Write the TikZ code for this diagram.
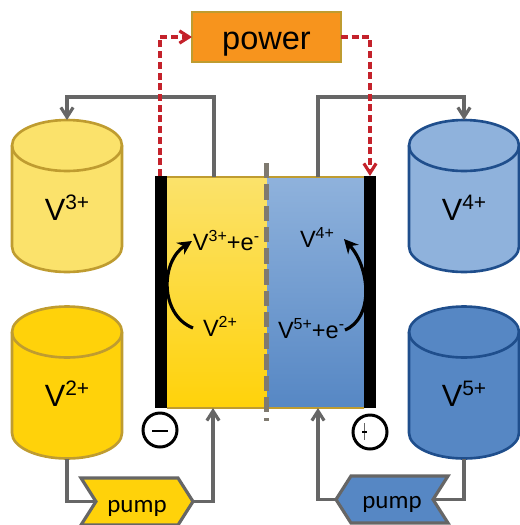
\documentclass[tikz,border=0pt]{standalone}
\usepackage{xcolor}
\usepackage{fontspec}
\setmainfont{Liberation Sans}
\newfontfamily\pumpfont{Carlito}
\usetikzlibrary{positioning}
\usetikzlibrary{arrows.meta}
\usetikzlibrary{shapes.symbols}

\definecolor{goldEdge}{HTML}{BF9C30}
\definecolor{paleYellow}{HTML}{FBE26B}
\definecolor{deepYellow}{HTML}{FFD20A}
\definecolor{paleBlue}{HTML}{8FB2DC}
\definecolor{deepBlue}{HTML}{5687C4}
\definecolor{navyEdge}{HTML}{1F4E8C}
\definecolor{pipeGrey}{HTML}{666666}
\definecolor{wireRed}{HTML}{C4222B}
\definecolor{powerOrange}{HTML}{F7941D}
\definecolor{membraneGrey}{HTML}{7F7A70}

\newcommand{\vion}[1]{V\raisebox{0.36em}{\scalebox{0.68}{#1}}}
\newcommand{\elec}{e\raisebox{0.36em}{\scalebox{0.68}{-}}}
% body and lid round an empty node
\newcommand{\tankBody}[3]{
	\draw [line width = 1.5pt, draw = #2, fill = #3] ([yshift=-25.5*\oneUnit]#1.north west) arc[start angle=180, end angle=0, x radius=55*\oneUnit, y radius=25.5*\oneUnit] -- ([yshift=25.5*\oneUnit]#1.south east) arc[start angle=0, end angle=-180, x radius=55*\oneUnit, y radius=25.5*\oneUnit] -- cycle;
	\draw [line width = 1.5pt, draw = #2] ([yshift=-25.5*\oneUnit]#1.north west) arc[start angle=180, end angle=360, x radius=55*\oneUnit, y radius=25.5*\oneUnit];
}

\begin{document}
\begin{tikzpicture}[
		>={Straight Barb[length=5.5pt, width=7pt, line width=1.8pt]},
		tank/.style = { rectangle, minimum width = 110*\oneUnit, minimum height = 152*\oneUnit, inner sep=0pt, outer sep=0pt },
		tankWord/.style = { font = \fontsize{17.5}{19}\selectfont, inner sep=0pt, outer sep=0pt, text = black },
		cellWord/.style = { font = \fontsize{13.4}{15}\selectfont, inner sep=0pt, outer sep=0pt, text = black, anchor = base west },
		cellBox/.style = { rectangle, minimum height = 231*\oneUnit, inner sep=0pt, outer sep=0pt },
		electrode/.style = { rectangle, fill = black, minimum width = 12*\oneUnit, minimum height = 232*\oneUnit, inner sep=0pt, outer sep=0pt },
		pumpBox/.style = { signal, draw = pipeGrey, line width = 1.8pt, signal pointer angle = 115, minimum width = 112*\oneUnit, minimum height = 47*\oneUnit, font = \pumpfont\fontsize{14.2}{16}\selectfont, text depth = 0pt, inner sep=0pt, outer sep=0pt },
		pipe/.style = { draw = pipeGrey, line width = 1.8pt },
		wire/.style = { draw = wireRed, line width = 1.8pt, dash pattern = on 4pt off 2.1pt },
		pole/.style = { circle, draw, line width = 1.7pt, minimum size = 34*\oneUnit, inner sep=0pt, outer sep=0pt },
		]
	\def\oneUnit{0.02cm}
	\useasboundingbox (0*\oneUnit,0*\oneUnit) rectangle (520*\oneUnit,-525*\oneUnit);

	\node[rectangle, draw = goldEdge, fill = powerOrange, line width = 1.3pt, minimum width = 149*\oneUnit, minimum height = 50*\oneUnit, font = \fontsize{18.5}{20}\selectfont, text depth = 0pt, text height = 24*\oneUnit, inner sep=0pt, outer sep=0pt] (power) at (266.5*\oneUnit,-37*\oneUnit) {power};

	\node[tank] (V3tank) at (67*\oneUnit,-196*\oneUnit) {};
	\node[tank] (V2tank) at (67*\oneUnit,-382.5*\oneUnit) {};
	\node[tank] (V4tank) at (464*\oneUnit,-196*\oneUnit) {};
	\node[tank] (V5tank) at (464*\oneUnit,-382.5*\oneUnit) {};
	\tankBody{V3tank}{goldEdge}{paleYellow}
	\tankBody{V2tank}{goldEdge}{deepYellow}
	\tankBody{V4tank}{navyEdge}{paleBlue}
	\tankBody{V5tank}{navyEdge}{deepBlue}
	\node[tankWord] (V3word) at (67*\oneUnit,-208*\oneUnit) {\vion{3+}};
	\node[tankWord] (V2word) at (67*\oneUnit,-394*\oneUnit) {\vion{2+}};
	\node[tankWord] (V4word) at (464*\oneUnit,-208*\oneUnit) {\vion{4+}};
	\node[tankWord] (V5word) at (464*\oneUnit,-394*\oneUnit) {\vion{5+}};

	\node[cellBox, minimum width = 100*\oneUnit, top color = paleYellow, bottom color = deepYellow] (leftCell) at (217*\oneUnit,-292.5*\oneUnit) {};
	\node[cellBox, minimum width = 97*\oneUnit, top color = paleBlue, bottom color = deepBlue] (rightCell) at (315.5*\oneUnit,-292.5*\oneUnit) {};
	\draw [draw = goldEdge, line width = 1.2pt] (leftCell.north west) -- (rightCell.north east);
	\draw [draw = goldEdge, line width = 1.2pt] (leftCell.south west) -- (rightCell.south east);

	\coordinate (membraneTop) at (266.5*\oneUnit,-163*\oneUnit);
	\coordinate (membraneEnd) at (266.5*\oneUnit,-421*\oneUnit);
	\draw [draw = membraneGrey, line width = 2.9pt, dash pattern = on 8.8pt off 3.3pt] (membraneTop) -- (membraneEnd);

	\node[electrode] (minusPlate) at (161*\oneUnit,-292*\oneUnit) {};
	\node[electrode] (plusPlate) at (370*\oneUnit,-292*\oneUnit) {};

	\node[cellWord] (V3cell) at (193*\oneUnit,-250*\oneUnit) {\vion{3+}+\elec};
	\node[cellWord] (V4cell) at (300*\oneUnit,-247*\oneUnit) {\vion{4+}};
	\node[cellWord] (V2cell) at (203*\oneUnit,-336*\oneUnit) {\vion{2+}};
	\node[cellWord] (V5cell) at (278*\oneUnit,-338*\oneUnit) {\vion{5+}+\elec};

	\coordinate (leftTurnA) at (193*\oneUnit,-328*\oneUnit);
	\coordinate (leftTurnB) at (192*\oneUnit,-241*\oneUnit);
	\coordinate (rightTurnA) at (345*\oneUnit,-330*\oneUnit);
	\coordinate (rightTurnB) at (344*\oneUnit,-239*\oneUnit);
	\draw [-{Stealth[length=8pt, width=8pt]}, line width = 1.8pt] (leftTurnA) .. controls (160*\oneUnit,-315*\oneUnit) and (160*\oneUnit,-262*\oneUnit) .. (leftTurnB);
	\draw [-{Stealth[length=8pt, width=8pt]}, line width = 1.8pt] (rightTurnA) .. controls (374*\oneUnit,-318*\oneUnit) and (370*\oneUnit,-268*\oneUnit) .. (rightTurnB);

	\coordinate (leftOut) at (214*\oneUnit,-177*\oneUnit);
	\coordinate (rightOut) at (318*\oneUnit,-177*\oneUnit);
	\coordinate (leftIn) at (213*\oneUnit,-408*\oneUnit);
	\coordinate (rightIn) at (318*\oneUnit,-408*\oneUnit);
	\coordinate (minusTop) at (160*\oneUnit,-176*\oneUnit);
	\coordinate (plusTop) at (370*\oneUnit,-176*\oneUnit);

	\draw [->, pipe] (leftOut) -- ++ (0*\oneUnit, 80*\oneUnit) -| (V3tank.north);
	\draw [->, pipe] (rightOut) -- ++ (0*\oneUnit, 80*\oneUnit) -| (V4tank.north);

	\node[pumpBox, signal to = east, signal from = west, fill = deepYellow, text height = 21*\oneUnit] (leftPump) at (137*\oneUnit,-501.5*\oneUnit) {pump};
	\node[pumpBox, signal to = west, signal from = east, fill = deepBlue, text height = 17*\oneUnit] (rightPump) at (392*\oneUnit,-499.5*\oneUnit) {pump};

	\draw [pipe] (V2tank.south) |- (leftPump.west);
	\draw [->, pipe] (leftPump.east) -| (leftIn);
	\draw [pipe] (V5tank.south) |- (rightPump.east);
	\draw [->, pipe] (rightPump.west) -| (rightIn);

	\draw [->, wire] (minusTop) |- (power.west);
	\draw [->, wire] (power.east) -| (plusTop);

	\node[pole] (minusPole) at (160*\oneUnit,-430*\oneUnit) {};
	\node[pole] (plusPole) at (370*\oneUnit,-432*\oneUnit) {};
	\draw [line width = 0.9pt] (152*\oneUnit,-431*\oneUnit) -- (168*\oneUnit,-431*\oneUnit);
	\draw [draw = pipeGrey, line width = 0.6pt] (364.5*\oneUnit,-423*\oneUnit) -- (364.5*\oneUnit,-440*\oneUnit);
	\draw [line width = 0.6pt] (362*\oneUnit,-432*\oneUnit) -- (367*\oneUnit,-432*\oneUnit);
\end{tikzpicture}
\end{document}
